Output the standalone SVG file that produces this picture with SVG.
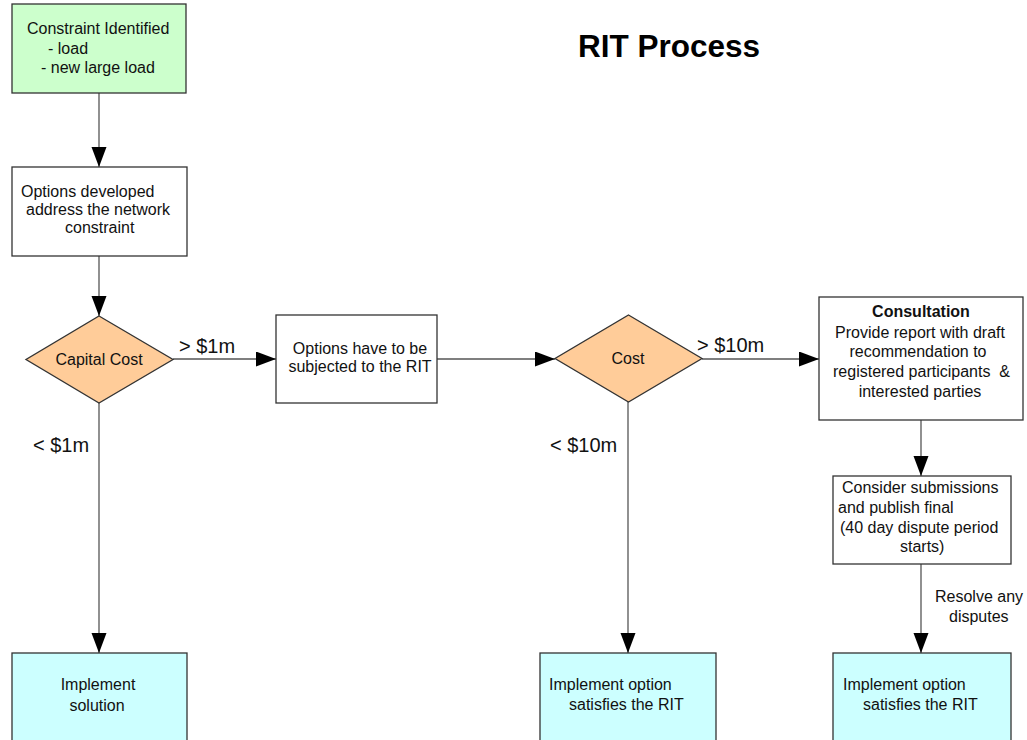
<svg xmlns="http://www.w3.org/2000/svg" width="1027" height="740" viewBox="0 0 1027 740">
<defs>
<marker id="arr" markerUnits="userSpaceOnUse" markerWidth="21" markerHeight="16" refX="20" refY="7.5" orient="auto">
<path d="M0,0 L20,7.5 L0,15 Z" fill="#000"/>
</marker>
<style>
.box{stroke:#333;stroke-width:1.3}
.t{font-family:"Liberation Sans",Arial,sans-serif;font-size:16px;fill:#111}
.c{text-anchor:middle}
.lbl{font-family:"Liberation Sans",Arial,sans-serif;font-size:20px;fill:#111}
.ln{stroke:#555;stroke-width:1.3;fill:none}
</style>
</defs>
<rect width="1027" height="740" fill="#fff"/>
<text x="669" y="57" class="c" font-family="Liberation Sans, Arial, sans-serif" font-size="31.5" font-weight="bold" fill="#000">RIT Process</text>
<g id="connectors">
<line class="ln" x1="99" y1="93" x2="99" y2="167" marker-end="url(#arr)"/>
<line class="ln" x1="99" y1="256" x2="99" y2="316" marker-end="url(#arr)"/>
<line class="ln" x1="173" y1="359" x2="276" y2="359" marker-end="url(#arr)"/>
<line class="ln" x1="437" y1="359" x2="555" y2="359" marker-end="url(#arr)"/>
<line class="ln" x1="702" y1="359" x2="819" y2="359" marker-end="url(#arr)"/>
<line class="ln" x1="99" y1="403" x2="99" y2="653" marker-end="url(#arr)"/>
<line class="ln" x1="628" y1="402" x2="628" y2="653" marker-end="url(#arr)"/>
<line class="ln" x1="921" y1="420" x2="921" y2="476" marker-end="url(#arr)"/>
<line class="ln" x1="921" y1="564" x2="921" y2="653" marker-end="url(#arr)"/>
<text class="lbl" x="179" y="353">&gt; $1m</text>
<text class="lbl" x="697" y="352">&gt; $10m</text>
<text class="lbl" x="33" y="452">&lt; $1m</text>
<text class="lbl" x="550" y="452">&lt; $10m</text>
<text class="t" x="935" y="602">Resolve any</text>
<text class="t" x="949" y="622">disputes</text>
</g>
<g id="n-constraint">
<rect class="box" x="12" y="4" width="174" height="89" fill="#ccffcc"/>
<text class="t" x="27" y="34">Constraint Identified</text>
<text class="t" x="48" y="54">- load</text>
<text class="t" x="41" y="73">- new large load</text>
</g>
<g id="n-options">
<rect class="box" x="12" y="167" width="175" height="89" fill="#fff"/>
<text class="t" x="21" y="197">Options developed</text>
<text class="t" x="26" y="215">address the network</text>
<text class="t" x="65" y="233">constraint</text>
</g>
<g id="n-capital">
<polygon class="box" points="99,316 173,359.5 99,403 26,359.5" fill="#ffcc99"/>
<text class="t c" x="99" y="365">Capital Cost</text>
</g>
<g id="n-rit">
<rect class="box" x="276" y="315" width="161" height="88" fill="#fff"/>
<text class="t c" x="360" y="354">Options have to be</text>
<text class="t c" x="360" y="372">subjected to the RIT</text>
</g>
<g id="n-cost">
<polygon class="box" points="628.5,315 702,358.5 628.5,402 555,358.5" fill="#ffcc99"/>
<text class="t c" x="628" y="364">Cost</text>
</g>
<g id="n-consult">
<rect class="box" x="819" y="297" width="204" height="123" fill="#fff"/>
<text class="t c" x="921" y="317" font-weight="bold">Consultation</text>
<text class="t c" x="920" y="338">Provide report with draft</text>
<text class="t c" x="918" y="357">recommendation to</text>
<text class="t" x="833" y="377" xml:space="preserve">registered participants  &amp;</text>
<text class="t c" x="920" y="397">interested parties</text>
</g>
<g id="n-consider">
<rect class="box" x="833" y="476" width="178" height="88" fill="#fff"/>
<text class="t" x="842" y="493">Consider submissions</text>
<text class="t" x="838" y="513">and publish final</text>
<text class="t" x="840" y="533">(40 day dispute period</text>
<text class="t" x="900" y="552">starts)</text>
</g>
<g id="n-impl1">
<rect class="box" x="12" y="653" width="175" height="100" fill="#ccffff"/>
<text class="t c" x="98" y="690">Implement</text>
<text class="t c" x="97" y="711">solution</text>
</g>
<g id="n-impl2">
<rect class="box" x="540" y="653" width="176" height="100" fill="#ccffff"/>
<text class="t" x="549" y="690">Implement option</text>
<text class="t" x="569" y="710">satisfies the RIT</text>
</g>
<g id="n-impl3">
<rect class="box" x="833" y="653" width="178" height="100" fill="#ccffff"/>
<text class="t" x="843" y="690">Implement option</text>
<text class="t" x="863" y="710">satisfies the RIT</text>
</g>
</svg>
